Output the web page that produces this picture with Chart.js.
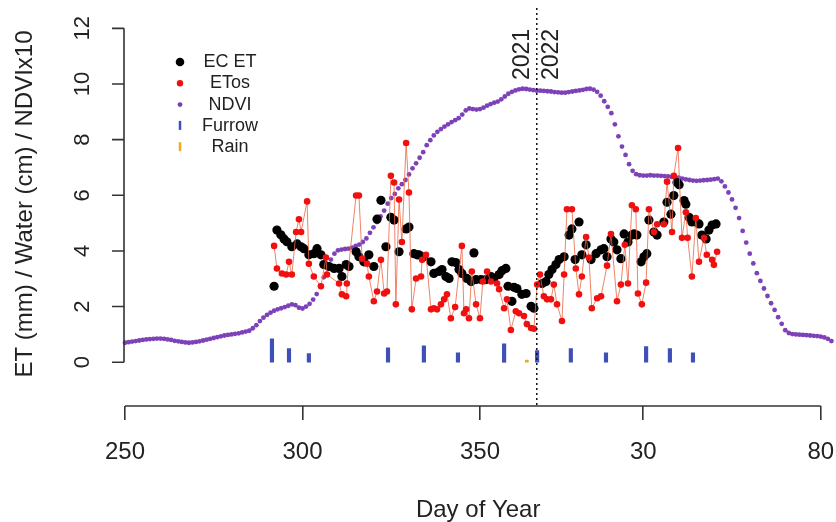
<!DOCTYPE html>
<html>
<head>
<meta charset="utf-8">
<script src="https://cdn.jsdelivr.net/npm/chart.js@4.4.1/dist/chart.umd.min.js"></script>
<style>
  html, body { margin: 0; padding: 0; background: #fff; }
  #wrap { width: 836px; height: 522px; }
</style>
</head>
<body>
<div id="wrap"><canvas id="etChart"></canvas></div>
<script>
// day of year, 2022 days continue after 2021 (offset 366)
var yearBreak = 366;
var tickDays = [250, 300, 350, 396, 446];
var tickLabels = ['250', '300', '350', '30', '80'];
var yTicks = [0, 2, 4, 6, 8, 10, 12];

// EC ET (mm), black dots
var ecDays = [292.0,292.8,293.9,294.8,295.6,297.0,298.5,299.6,300.4,301.8,
  303.2,304.1,305.2,306.0,307.5,308.9,310.3,311.1,312.3,313.1,
  315.1,315.9,317.3,318.7,320.1,321.0,322.1,323.5,324.9,325.8,
  327.2,329.2,330.0,331.4,332.3,332.8,334.2,336.2,337.0,338.5,
  339.3,340.4,341.3,342.1,343.2,344.1,344.9,346.3,347.5,348.3,
  348.9,350.3,351.7,353.1,353.9,355.4,356.2,357.3,357.9,359.0,
  359.6,360.4,361.8,363.0,364.4,365.2,367.5,368.6,369.4,370.3,
  371.4,372.3,373.7,375.1,375.9,376.8,377.9,378.7,379.9,381.3,
  382.7,384.1,384.9,385.8,386.9,387.7,388.6,389.7,390.6,391.7,
  392.8,393.4,394.2,395.4,396.2,397.0,397.6,399.0,399.9,401.8,
  402.7,403.8,404.6,405.5,406.1,407.5,408.0,408.9,409.7,410.8,
  411.7,412.5,413.7,414.5,415.4,416.5];
var ecET = [2.73,4.75,4.58,4.43,4.33,4.15,4.25,4.15,4.08,3.86,
  3.90,4.08,3.86,3.51,3.44,3.37,3.37,3.08,3.51,3.44,
  3.97,3.79,3.61,3.86,3.44,5.14,5.82,4.15,5.21,5.11,
  3.97,4.79,4.86,3.90,3.86,3.86,3.79,3.61,3.19,3.26,
  3.33,3.08,3.01,3.61,3.58,3.33,3.19,3.01,2.90,3.93,
  2.97,2.97,2.97,3.08,3.01,3.15,3.29,3.37,2.73,2.19,
  2.69,2.65,2.44,2.47,2.01,1.94,2.83,2.90,3.15,3.33,
  3.51,3.69,3.79,4.57,4.79,3.69,5.04,3.86,4.22,3.69,
  3.90,4.04,4.08,3.79,4.43,4.32,4.04,3.72,4.61,4.32,
  4.57,4.61,4.57,3.61,3.79,3.90,5.11,4.68,4.57,5.04,
  5.75,5.32,5.99,6.46,6.38,5.81,5.68,5.21,5.04,5.04,
  4.97,4.57,4.43,4.75,4.93,4.97];

// ETos (mm), red dots + thin line
var etosDays = [292.0,292.8,294.2,295.4,296.2,297.0,298.2,299.0,299.6,301.3,
  301.8,303.2,305.2,306.6,306.9,310.3,311.1,312.3,312.5,315.1,
  315.9,316.8,318.2,318.7,320.1,321.0,322.1,323.0,323.8,324.9,
  325.8,326.3,327.2,328.0,329.2,330.0,330.8,332.0,333.4,333.7,
  334.8,336.2,337.0,337.9,339.0,339.9,340.7,341.8,343.0,344.9,
  345.5,346.1,346.9,347.7,348.9,350.0,350.8,352.0,353.1,354.8,
  355.4,356.8,357.6,358.7,360.1,361.0,362.4,363.2,364.4,365.2,
  366.1,366.9,368.0,368.9,370.0,370.8,371.7,373.1,373.7,374.5,
  375.9,377.0,377.9,378.7,379.9,380.7,381.5,383.0,384.1,385.8,
  386.9,388.6,389.7,390.8,391.7,392.8,393.9,394.5,395.6,396.8,
  397.6,399.0,399.9,401.8,402.7,404.1,404.6,405.8,406.9,408.0,
  408.5,409.7,410.8,411.7,413.1,413.9,415.4,415.9,416.8];
var etos = [4.18,3.37,3.19,3.15,3.61,3.15,4.68,5.14,4.68,5.78,
  3.54,3.08,2.73,3.76,3.15,2.83,2.44,2.37,2.83,5.99,
  5.99,3.72,3.54,3.08,2.19,2.54,3.68,2.47,2.54,6.70,
  6.46,2.08,5.85,4.32,7.88,6.10,1.90,3.01,3.08,3.68,
  3.86,1.90,1.94,1.90,2.08,2.26,2.44,1.58,1.98,4.18,
  1.76,1.90,1.58,3.26,2.08,1.58,2.90,3.26,2.90,2.83,
  2.62,1.94,2.26,1.16,1.83,1.76,1.66,1.37,1.23,1.20,
  2.79,3.15,2.37,2.26,2.26,2.79,2.08,1.48,3.15,5.50,
  5.50,3.37,2.44,3.08,4.50,3.76,1.94,2.30,2.37,3.47,
  4.61,2.19,2.79,4.22,2.83,5.64,5.50,2.47,2.08,2.86,
  5.50,4.68,4.96,4.96,6.49,4.68,6.70,7.70,4.47,5.39,
  4.47,3.08,5.18,3.61,4.47,3.86,3.68,3.50,3.97];

// NDVI x10, one value per day from day 250
var ndviFirstDay = 250;
var ndvi = [0.70,0.72,0.74,0.76,0.78,0.80,0.82,0.83,0.84,0.85,
  0.85,0.84,0.82,0.80,0.77,0.75,0.73,0.71,0.70,0.71,
  0.73,0.75,0.78,0.81,0.84,0.87,0.90,0.93,0.96,0.98,
  1.00,1.02,1.04,1.07,1.10,1.13,1.22,1.33,1.48,1.60,
  1.70,1.78,1.85,1.90,1.94,1.98,2.03,2.08,2.05,1.96,
  1.93,2.00,2.10,2.25,2.45,2.75,3.05,3.38,3.69,3.90,
  4.02,4.05,4.07,4.08,4.12,4.18,4.23,4.32,4.45,4.65,
  4.85,5.04,5.24,5.45,5.70,5.90,6.05,6.25,6.40,6.55,
  6.75,6.97,7.15,7.35,7.55,7.80,7.98,8.15,8.28,8.38,
  8.47,8.55,8.63,8.70,8.77,8.90,9.05,9.12,9.10,9.08,
  9.10,9.15,9.22,9.28,9.33,9.37,9.45,9.55,9.65,9.72,
  9.77,9.81,9.83,9.82,9.80,9.78,9.76,9.76,9.75,9.74,
  9.73,9.71,9.70,9.69,9.69,9.71,9.73,9.75,9.77,9.79,
  9.82,9.83,9.80,9.72,9.58,9.38,9.18,8.95,8.55,8.12,
  7.75,7.45,7.12,6.88,6.76,6.72,6.71,6.71,6.72,6.71,
  6.71,6.70,6.69,6.68,6.66,6.64,6.63,6.60,6.57,6.55,
  6.53,6.52,6.53,6.54,6.55,6.56,6.58,6.60,6.50,6.32,
  6.10,5.85,5.55,5.18,4.72,4.30,3.90,3.55,3.20,2.92,
  2.65,2.38,2.12,1.88,1.62,1.38,1.15,1.05,1.01,1.00,
  0.99,0.98,0.97,0.96,0.95,0.94,0.92,0.89,0.84,0.76,
  0.62];

// furrow irrigation and rain (cm)
var furrowDays = [291.4,296.2,301.8,324.1,334.2,343.8,356.8,366.1,375.6,385.5,396.8,403.5,410.0];
var furrowCm = [0.84,0.49,0.31,0.52,0.59,0.34,0.66,0.42,0.49,0.34,0.56,0.49,0.34];
var rainDays = [356.8, 363.2];
var rainCm = [0.10, 0.08];

function pairs(xs, ys) {
  return xs.map(function(x, i) { return {x: x, y: ys[i]}; });
}

var legendItems = [
  {label: 'EC ET', color: '#000000', kind: 'dot', r: 4.3},
  {label: 'ETos', color: '#f01010', kind: 'dot', r: 3.2},
  {label: 'NDVI', color: '#7b3db3', kind: 'dot', r: 2.4},
  {label: 'Furrow', color: '#3f4fb8', kind: 'bar'},
  {label: 'Rain', color: '#f5a623', kind: 'bar'}
];

var fontFam = '"Liberation Sans", Arial, sans-serif';

// R style axes, legend and year divider
var extras = {
  id: 'extras',
  afterDraw: function(chart) {
    var ctx = chart.ctx, xs = chart.scales.x, ys = chart.scales.y;
    ctx.save();
    ctx.strokeStyle = '#333';
    ctx.lineWidth = 1.6;
    // x axis line between first and last tick
    ctx.beginPath();
    ctx.moveTo(xs.getPixelForValue(tickDays[0]), xs.top);
    ctx.lineTo(xs.getPixelForValue(tickDays[tickDays.length - 1]), xs.top);
    ctx.stroke();

    // y axis
    var ax = xs.getPixelForValue(tickDays[0]) - 1;
    ctx.beginPath();
    ctx.moveTo(ax, ys.getPixelForValue(yTicks[0]));
    ctx.lineTo(ax, ys.getPixelForValue(yTicks[yTicks.length - 1]));
    yTicks.forEach(function(v) {
      var py = ys.getPixelForValue(v);
      ctx.moveTo(ax, py);
      ctx.lineTo(ax - 12, py);
    });
    ctx.stroke();

    ctx.fillStyle = '#222';
    ctx.font = '22px ' + fontFam;
    ctx.textAlign = 'center';
    ctx.textBaseline = 'middle';
    yTicks.forEach(function(v) {
      ctx.save();
      ctx.translate(83, ys.getPixelForValue(v));
      ctx.rotate(-Math.PI / 2);
      ctx.fillText(String(v), 0, 0);
      ctx.restore();
    });
    ctx.save();
    ctx.font = '24px ' + fontFam;
    ctx.translate(25, 204);
    ctx.rotate(-Math.PI / 2);
    ctx.fillText('ET (mm) / Water (cm) / NDVIx10', 0, 0);
    ctx.restore();

    // year divider
    var bx = xs.getPixelForValue(yearBreak);
    ctx.strokeStyle = '#111';
    ctx.lineWidth = 1.5;
    ctx.setLineDash([2, 3]);
    ctx.beginPath();
    ctx.moveTo(bx, 8);
    ctx.lineTo(bx, xs.top);
    ctx.stroke();
    ctx.setLineDash([]);
    ctx.font = '23px ' + fontFam;
    ctx.textAlign = 'left';
    [['2021', bx - 14], ['2022', bx + 15]].forEach(function(t) {
      ctx.save();
      ctx.translate(t[1], 80);
      ctx.rotate(-Math.PI / 2);
      ctx.fillText(t[0], 0, 0);
      ctx.restore();
    });

    // legend
    ctx.font = '18px ' + fontFam;
    ctx.textAlign = 'center';
    legendItems.forEach(function(it, i) {
      var ly = 62 + i * 21.3;
      ctx.fillStyle = it.color;
      ctx.strokeStyle = it.color;
      if (it.kind === 'dot') {
        ctx.beginPath();
        ctx.arc(180, ly, it.r, 0, Math.PI * 2);
        ctx.fill();
      } else {
        ctx.lineWidth = 2.5;
        ctx.beginPath();
        ctx.moveTo(180, ly - 5);
        ctx.lineTo(180, ly + 4);
        ctx.stroke();
      }
      ctx.fillStyle = '#222';
      ctx.fillText(it.label, 230, ly);
    });
    ctx.restore();
  }
};

var ctx = document.getElementById('etChart').getContext('2d');
var etChart = new Chart(ctx, {
  type: 'scatter',
  data: {
    datasets: [{
      label: 'ETos',
      data: pairs(etosDays, etos),
      showLine: true,
      borderColor: 'rgba(238,100,66,0.8)',
      borderWidth: 1,
      pointRadius: 3.3,
      pointBackgroundColor: '#f01010',
      pointBorderWidth: 0,
      order: 1
    }, {
      label: 'EC ET',
      data: pairs(ecDays, ecET),
      pointRadius: 4.6,
      pointBackgroundColor: '#000000',
      pointBorderWidth: 0,
      order: 2
    }, {
      type: 'bar',
      label: 'Furrow',
      data: pairs(furrowDays, furrowCm),
      backgroundColor: '#3f4fb8',
      barThickness: 3.5,
      grouped: false,
      order: 3
    }, {
      type: 'bar',
      label: 'Rain',
      data: pairs(rainDays, rainCm),
      backgroundColor: '#f5a623',
      barThickness: 3,
      grouped: false,
      order: 4
    }, {
      label: 'NDVI',
      data: ndvi.map(function(v, i) { return {x: ndviFirstDay + i, y: v}; }),
      pointRadius: 2.4,
      pointBackgroundColor: '#7d42b8',
      pointBorderWidth: 0,
      clip: false,
      order: 5
    }]
  },
  options: {
    responsive: true,
    maintainAspectRatio: false,
    animation: false,
    layout: { padding: { left: 125, right: 0, top: 0, bottom: 0 } },
    plugins: {
      legend: { display: false },
      tooltip: { enabled: false }
    },
    scales: {
      x: {
        type: 'linear',
        offset: false,
        min: 250,
        max: 449,
        afterBuildTicks: function(s) {
          s.ticks = tickDays.map(function(v) { return {value: v}; });
        },
        afterFit: function(s) {
          s.height = 116;
          s.paddingLeft = 0;
          s.paddingRight = 0;
        },
        grid: { offset: false, drawOnChartArea: false, color: '#333', lineWidth: 1.6, tickLength: 14 },
        border: { display: false },
        ticks: {
          autoSkip: false,
          maxRotation: 0,
          padding: 18,
          color: '#222',
          font: { family: fontFam, size: 24 },
          callback: function(v, i) { return tickLabels[i]; }
        },
        title: {
          display: true,
          text: 'Day of Year',
          color: '#222',
          font: { family: fontFam, size: 24, lineHeight: 1 },
          padding: 0
        }
      },
      y: {
        type: 'linear',
        display: false,
        min: -1.574,
        max: 12.854
      }
    }
  },
  plugins: [extras]
});
</script>
</body>
</html>
